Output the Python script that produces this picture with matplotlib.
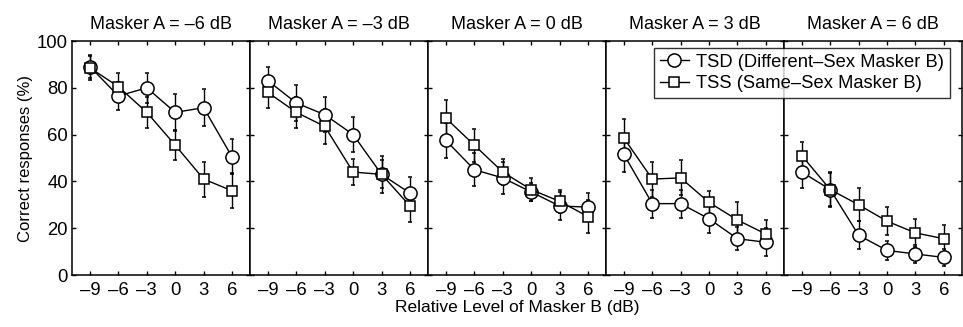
import matplotlib
matplotlib.use('Agg')
from matplotlib import pyplot as plt

plt.rcParams['font.family'] = ['Liberation Sans', 'DejaVu Sans']

# Relative level of masker B (dB) and the masker A level of each panel
levels = [-9, -6, -3, 0, 3, 6]
masker_a = ['\u20136', '\u20133', '0', '3', '6']

# TSD: different-sex masker B (circles)
tsd = [
    [89, 76.5, 80, 69.5, 71.5, 50.5],
    [83, 73.5, 68.5, 60, 43, 35],
    [57.5, 45, 41.5, 35.5, 29.5, 29],
    [51.5, 30.5, 30.5, 24, 15.5, 14],
    [44, 36.5, 17, 10.5, 9, 7.5],
]
tsd_err = [
    [5, 6, 6.5, 8, 8, 7.5],
    [6, 7.5, 7.5, 7.5, 6, 7],
    [7.5, 7, 7, 4, 6, 6],
    [7.5, 6, 6, 6, 5, 6],
    [7, 7, 6, 4, 4, 3.5],
]

# TSS: same-sex masker B (squares)
tss = [
    [88.5, 80.5, 69.5, 55.5, 41, 36],
    [78, 69.5, 63.5, 44, 43, 29.5],
    [67, 55.5, 44, 36.5, 31.5, 25],
    [58.5, 41, 41.5, 31, 23.5, 17.5],
    [51, 36.5, 30, 23, 18, 15.5],
]
tss_err = [
    [5, 6, 6.5, 6.5, 7.5, 7.5],
    [6.5, 6.5, 7.5, 5.5, 8, 7],
    [8, 7, 5.5, 5, 5, 7],
    [8, 7.5, 7.5, 5, 7.5, 6],
    [6, 7.5, 7, 6, 6, 6],
]

fig = plt.figure(figsize=(9.63, 3.27), dpi=100)
left, bottom, width, height = 0.0748, 0.159, 0.1848, 0.7156

for i in range(5):
    ax = fig.add_axes([left + i * width, bottom, width, height])
    c1 = ax.errorbar(levels, tsd[i], yerr=tsd_err[i], color='black', lw=1,
                     marker='o', ms=9.5, mfc='white', mec='black', mew=1.1,
                     elinewidth=1, capsize=1.5)
    c2 = ax.errorbar(levels, tss[i], yerr=tss_err[i], color='black', lw=1,
                     marker='s', ms=7.5, mfc='white', mec='black', mew=1.1,
                     elinewidth=1, capsize=1.5)

    ax.set_xlim(-10.9, 7.9)
    ax.set_ylim(0, 100)
    ax.set_xticks(levels)
    ax.set_xticklabels(['\u2013' + str(-v) if v < 0 else str(v) for v in levels])
    ax.set_yticks([0, 20, 40, 60, 80, 100])
    ax.tick_params(direction='in', top=True, right=True, length=3, width=1,
                   labelsize=13.3, pad=5)
    ax.tick_params(axis='y', pad=3)
    for s in ax.spines.values():
        s.set_linewidth(1.1)
    ax.set_title('Masker A = ' + masker_a[i] + ' dB', fontsize=13, pad=9)
    if i == 0:
        ax.set_ylabel('Correct responses (%)', fontsize=12, labelpad=3)
    else:
        ax.set_yticklabels([])
    if i == 2:
        ax.set_xlabel('Relative Level of Masker B (dB)', fontsize=12.5, labelpad=1)

leg = fig.legend([c1[0], c2[0]],
                 ['TSD (Different\u2013Sex Masker B)', 'TSS (Same\u2013Sex Masker B)'],
                 loc='upper right', bbox_to_anchor=(0.9865, 0.852), fontsize=13.2,
                 frameon=True, fancybox=False, edgecolor='black',
                 handlelength=1.6, handletextpad=0.4, borderpad=0.3,
                 labelspacing=0.25, borderaxespad=0)
leg.get_frame().set_linewidth(1)

plt.savefig('out.png', dpi=100)
